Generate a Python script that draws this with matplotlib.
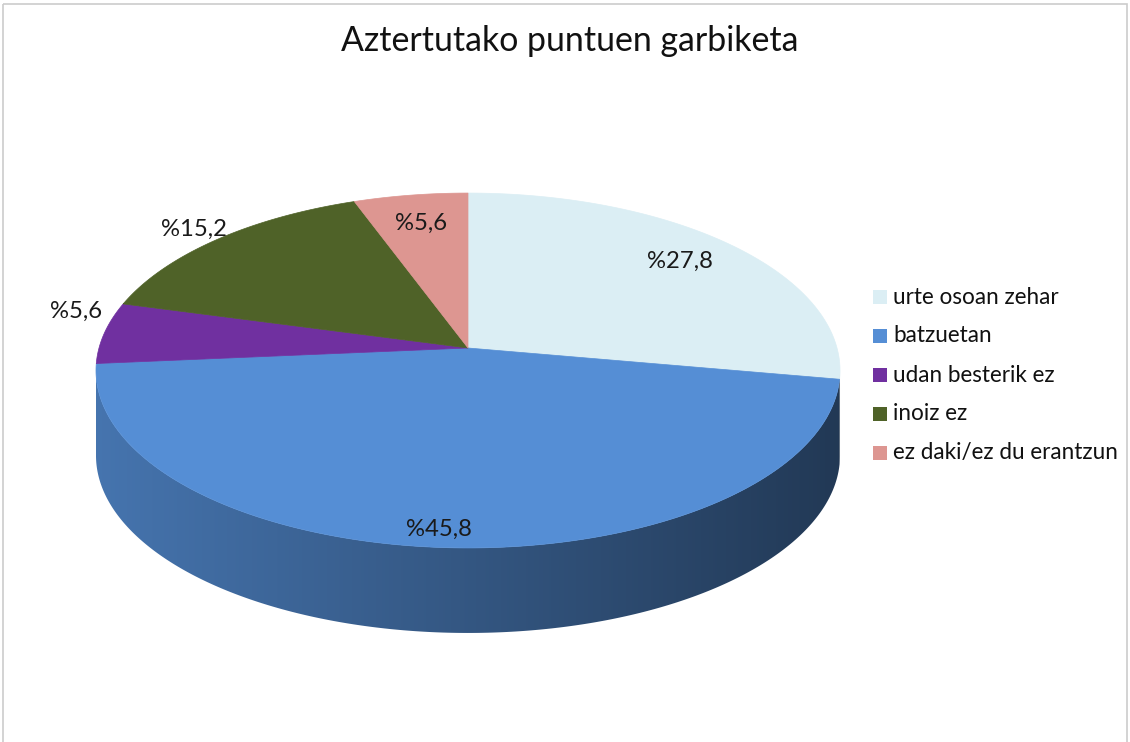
import numpy as np
import matplotlib
matplotlib.use("Agg")
import matplotlib.pyplot as plt
from matplotlib.patches import Polygon, Rectangle
from matplotlib.colors import to_rgb

# ---------------- data ----------------
title = "Aztertutako puntuen garbiketa"
categories = ["urte osoan zehar", "batzuetan", "udan besterik ez", "inoiz ez",
              "ez daki/ez du erantzun"]
values = [27.8, 45.8, 5.6, 15.2, 5.6]
value_labels = ["%27,8", "%45,8", "%5,6", "%15,2", "%5,6"]

# ---------------- style / layout ----------------
colors = ["#dbeef4", "#558ed5", "#7030a0", "#4f6228", "#dd9691"]
FONT = "Lato"
label_r = [0.80, 0.92, 1.08, 1.10, 0.80]
label_dx = [0, -12, 0, 0, 0]
label_dy = [-2, 0, -20, 0, 0]

W, H = 1130, 742
fig = plt.figure(figsize=(W / 100, H / 100), dpi=100)
ax = fig.add_axes([0, 0, 1, 1])
renderer = fig.canvas.get_renderer()


def fit_size(text, target_px):
    t = ax.text(0, 0, text, fontsize=10, family=FONT)
    w = t.get_window_extent(renderer).width
    t.remove()
    return 10 * target_px / w


# chart border
ax.add_patch(Rectangle((3, 4), 1124, 800, fill=False, edgecolor="#cccccc", lw=1.2, zorder=0))

# perspective pie geometry
cx, cy = 468.0, 348.0
A, B, K = 369.0, 174.6, 0.1268
DEPTH = 85.0


def proj(r, t):
    u = r * np.cos(t)
    v = r * np.sin(t)
    d = 1 + K * v
    return cx + A * u / d, cy - B * v / d


vals = np.array(values, dtype=float)
frac = vals / vals.sum()
ends = np.pi / 2 - 2 * np.pi * np.cumsum(frac)
starts = ends + 2 * np.pi * frac

# ---- side wall (front visible arc), smooth horizontal shading ----
t_left = -np.pi + np.arcsin(K)
t_right = -np.arcsin(K)
xl = proj(1, t_left)[0]
xr = proj(1, t_right)[0]
NG = 600
gx = np.linspace(xl, xr, NG)
shade = 0.82 - 0.42 * (gx - xl) / (xr - xl)
for i in range(len(vals)):
    for shift in (0, -2 * np.pi, 2 * np.pi):
        lo = max(ends[i] + shift, t_left)
        hi = min(starts[i] + shift, t_right)
        if hi <= lo:
            continue
        ts = np.linspace(lo, hi, 300)
        xs, ys = proj(1, ts)
        pts = list(zip(xs, ys)) + list(zip(xs[::-1], ys[::-1] + DEPTH))
        clip = Polygon(pts, closed=True, facecolor="none", edgecolor="none",
                       transform=ax.transData)
        ax.add_patch(clip)
        base = np.array(to_rgb(colors[i]))
        img = np.clip(shade[None, :, None] * base[None, None, :], 0, 1)
        im = ax.imshow(img, extent=(xl, xr, cy + B / (1 - K) + DEPTH + 5, cy - 40),
                       interpolation="bilinear", aspect="auto", zorder=1)
        im.set_clip_path(clip)

# ---- top face ----
for i in range(len(vals)):
    ts = np.linspace(starts[i], ends[i], 300)
    xs, ys = proj(1, ts)
    pts = [(cx, cy)] + list(zip(xs, ys))
    ax.add_patch(Polygon(pts, closed=True, facecolor=colors[i], edgecolor=colors[i],
                         lw=0.5, zorder=2))

# ---- value labels ----
lab_fs = fit_size("%27,8", 66)
for i in range(len(vals)):
    mid = (starts[i] + ends[i]) / 2
    x, y = proj(label_r[i], mid)
    ax.text(x + label_dx[i], y + label_dy[i], value_labels[i], fontsize=lab_fs,
            family=FONT, ha="center", va="center", color="#1a1a1a", zorder=5)

# ---- title ----
ax.text(570, 51, title, fontsize=fit_size(title, 458), family=FONT,
        ha="center", va="baseline", color="#111111", zorder=5)

# ---- legend ----
leg_fs = fit_size(categories[0], 166)
leg_x, leg_y, leg_dy, sq = 873, 297, 39, 14
for i, c in enumerate(categories):
    yy = leg_y + i * leg_dy
    ax.add_patch(Rectangle((leg_x, yy - sq / 2), sq, sq, facecolor=colors[i],
                           edgecolor="none", zorder=5))
    ax.text(leg_x + 20, yy, c, fontsize=leg_fs, family=FONT, ha="left",
            va="center", color="#111111", zorder=5)

ax.set_xlim(0, W)
ax.set_ylim(H, 0)
ax.axis("off")
fig.savefig("out.png", dpi=100)
